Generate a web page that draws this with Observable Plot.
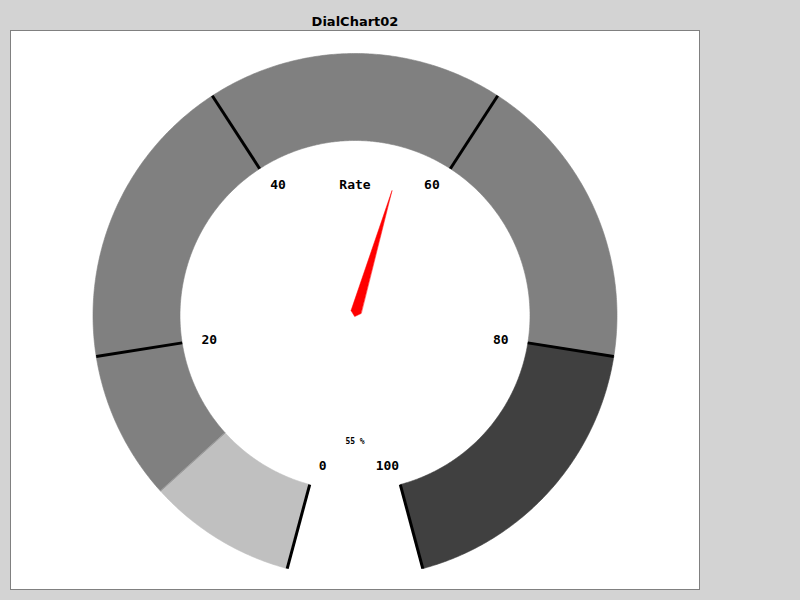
<!DOCTYPE html>
<html><head><meta charset="utf-8">
<script src="https://cdn.jsdelivr.net/npm/d3@7"></script>
<script src="https://cdn.jsdelivr.net/npm/@observablehq/plot@0.6"></script>
<style>
html,body{margin:0;padding:0;background:#d3d3d3;width:800px;height:600px;overflow:hidden}
#title{position:absolute;left:10px;width:690px;top:14px;text-align:center;font:bold 13px "DejaVu Sans";line-height:normal;color:#000}
#panel{position:absolute;left:10px;top:30px;width:688px;height:558px;border:1px solid #808080;background:#fff}
#panel svg{display:block}
</style></head><body>
<div id="title"></div>
<div id="panel"></div>
<script>
// ---- data ----
const chartTitle = "DialChart02";
const dialLabel = "Rate";
const dialValue = 55;
const valueSuffix = " %";
const scaleMin = 0, scaleMax = 100;
const tickValues = [0, 20, 40, 60, 80, 100];
const bandStarts = [0, 10, 80];
const bandEnds = [10, 80, 100];
const bandColors = ["#c0c0c0", "#808080", "#404040"];

// ---- layout ----
const W = 688, H = 558;
const cx = 343.5, cy = 284;            // dial centre inside the svg
const startAngle = -165, extent = 330; // degrees, clockwise from top
const rOuter = 262, rInner = 175;
const rNeedle = 130, needleHalfWidth = 5.2, needleSideAlong = 3.6, needleBack = -1.1;
const rLabel = 155.5, labelInset = 7.8;

document.getElementById("title").textContent = chartTitle;

const ang = v => (startAngle + (v - scaleMin) / (scaleMax - scaleMin) * extent) * Math.PI / 180;
const px = (a, r) => r * Math.sin(a);
const py = (a, r) => r * Math.cos(a);

function bandPoly(i) {
  const a0 = ang(bandStarts[i]), a1 = ang(bandEnds[i]);
  const n = Math.max(2, Math.ceil(Math.abs(a1 - a0) / (Math.PI / 360)));
  const pts = [];
  for (let k = 0; k <= n; k++) { const a = a0 + (a1 - a0) * k / n; pts.push({x: px(a, rOuter), y: py(a, rOuter)}); }
  for (let k = n; k >= 0; k--) { const a = a0 + (a1 - a0) * k / n; pts.push({x: px(a, rInner), y: py(a, rInner)}); }
  return pts;
}

// needle in its own frame: along = toward value direction, perp = sideways
const av = ang(dialValue);
const dX = Math.sin(av), dY = Math.cos(av), pX = Math.cos(av), pY = -Math.sin(av);
const np = (along, perp) => ({x: along * dX + perp * pX, y: along * dY + perp * pY});
const needle = [
  np(rNeedle, 0),
  np(needleSideAlong, -needleHalfWidth),
  np(needleBack, 0),
  np(needleSideAlong, needleHalfWidth)
];

const labelX = v => { const s = Math.sin(ang(v)); return rLabel * s - Math.sign(s) * labelInset; };
const labelY = v => py(ang(v), rLabel);

const mono = "DejaVu Sans Mono";
const chart = Plot.plot({
  width: W, height: H, margin: 0,
  x: {domain: [-cx, W - cx], axis: null},
  y: {domain: [-(H - cy), cy], axis: null},
  style: {background: "transparent", overflow: "visible"},
  marks: [
    ...bandColors.map((c, i) => Plot.line(bandPoly(i), {x: "x", y: "y", curve: "linear-closed", fill: c, stroke: c, strokeWidth: 0.6})),
    Plot.link(tickValues, {
      x1: v => px(ang(v), rInner), y1: v => py(ang(v), rInner),
      x2: v => px(ang(v), rOuter), y2: v => py(ang(v), rOuter),
      stroke: "black", strokeWidth: 3
    }),
    Plot.text(tickValues, {
      x: labelX, y: labelY, text: v => String(v),
      fontFamily: mono, fontWeight: "bold", fontSize: 13, fill: "black"
    }),
    Plot.text([dialLabel], {x: () => 0, y: () => 131, text: d => d, fontFamily: mono, fontWeight: "bold", fontSize: 13, fill: "black"}),
    Plot.text([dialValue], {x: () => 0, y: () => -126, text: d => d + valueSuffix, fontFamily: mono, fontWeight: "bold", fontSize: 8, fill: "black"}),
    Plot.line(needle, {x: "x", y: "y", curve: "linear-closed", fill: "red", stroke: "red", strokeWidth: 0.5})
  ]
});
document.getElementById("panel").appendChild(chart);
</script>
</body></html>
